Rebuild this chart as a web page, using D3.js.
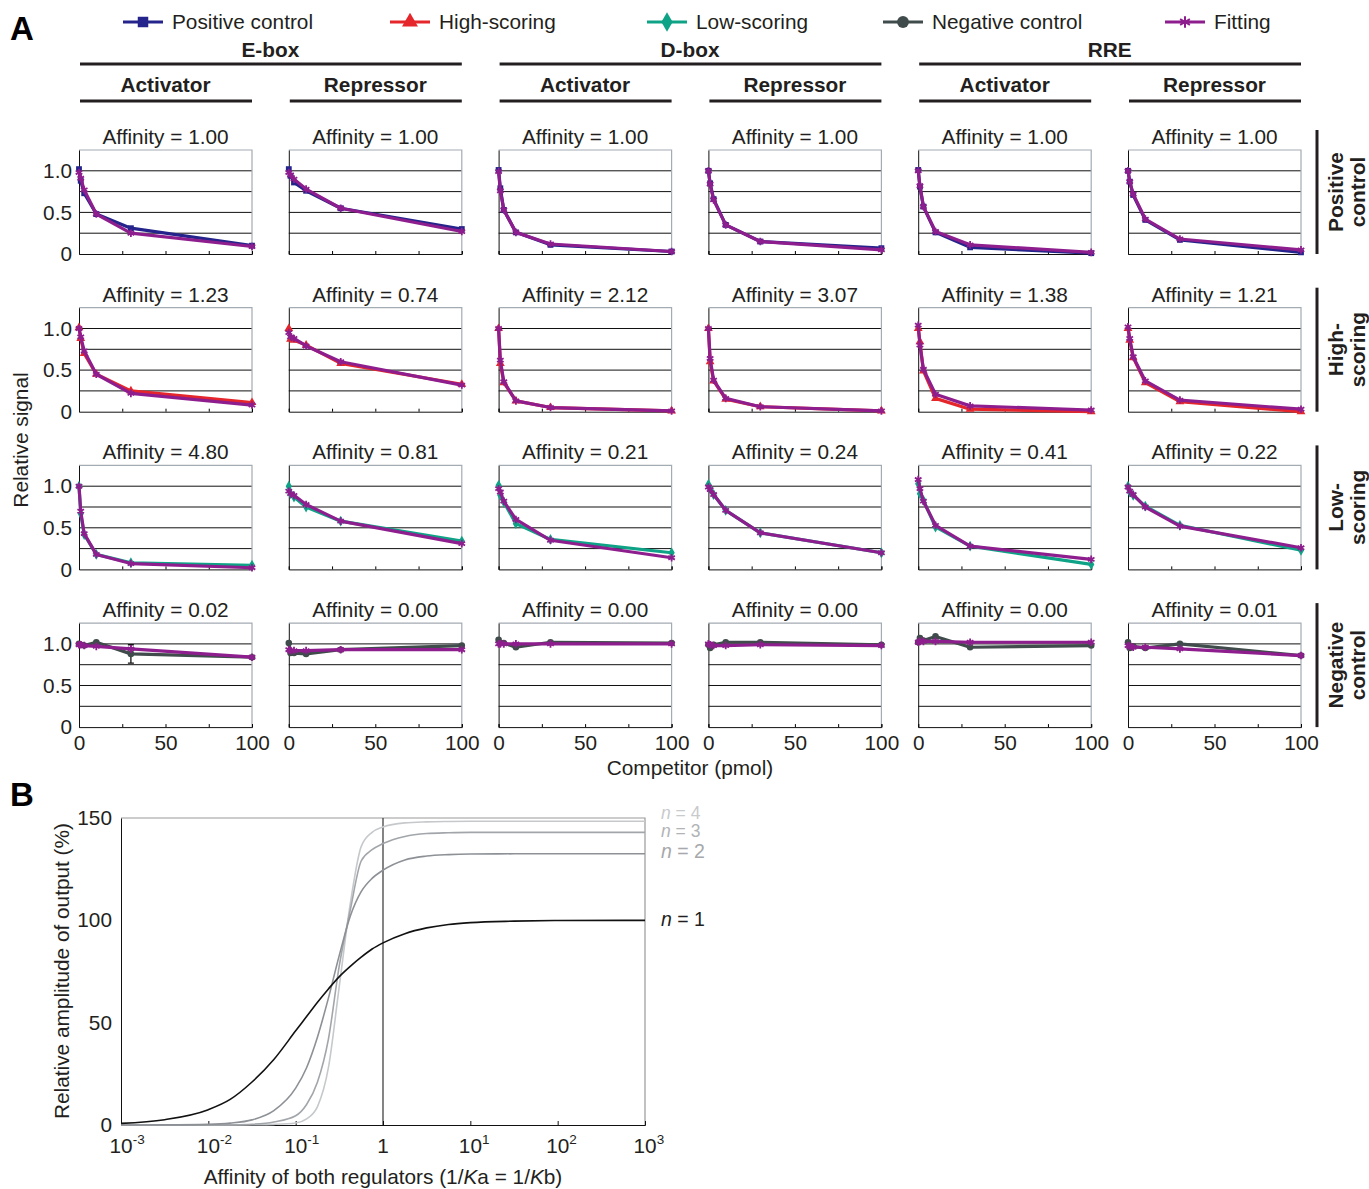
<!DOCTYPE html>
<meta charset="utf-8">
<style>
body { margin: 0; background: #fff; }
svg { font-family: "Liberation Sans", Arial, Helvetica, sans-serif; }
.bold { font-weight: bold; }
</style>
<body>
<script src="https://cdn.jsdelivr.net/npm/d3@7"></script>
<script>

var width = 1369,
    height = 1189,
    fs = 20.8;

// competitor amounts (pmol)
var competitor = [0, 1, 3, 10, 30, 100];

var groups = ["E-box", "D-box", "RRE"];
var roles = ["Activator", "Repressor"];
var rowNames = [["Positive", "control"], ["High-", "scoring"], ["Low-", "scoring"], ["Negative", "control"]];

var affinity = [
  ["1.00", "1.00", "1.00", "1.00", "1.00", "1.00"],
  ["1.23", "0.74", "2.12", "3.07", "1.38", "1.21"],
  ["4.80", "0.81", "0.21", "0.24", "0.41", "0.22"],
  ["0.02", "0.00", "0.00", "0.00", "0.00", "0.01"]
];

// measured signal, one array per column (E-box act, E-box rep, D-box act, D-box rep, RRE act, RRE rep)
var positiveData = [
  [1.02, 0.88, 0.73, 0.48, 0.31, 0.10],
  [1.02, 0.94, 0.86, 0.76, 0.55, 0.30],
  [1.01, 0.79, 0.53, 0.26, 0.11, 0.03],
  [1.00, 0.85, 0.66, 0.35, 0.15, 0.07],
  [1.01, 0.81, 0.57, 0.26, 0.08, 0.01],
  [1.00, 0.87, 0.71, 0.41, 0.17, 0.02]
];
var positiveFit = [
  [0.98, 0.91, 0.77, 0.48, 0.25, 0.09],
  [0.98, 0.95, 0.90, 0.78, 0.55, 0.27],
  [0.99, 0.76, 0.53, 0.26, 0.12, 0.03],
  [1.00, 0.84, 0.65, 0.35, 0.15, 0.05],
  [1.00, 0.82, 0.57, 0.27, 0.11, 0.02],
  [1.00, 0.87, 0.72, 0.42, 0.18, 0.05]
];
var highData = [
  [1.01, 0.88, 0.70, 0.45, 0.25, 0.11],
  [1.00, 0.87, 0.86, 0.80, 0.58, 0.33],
  [1.00, 0.58, 0.35, 0.13, 0.05, 0.01],
  [1.00, 0.60, 0.37, 0.15, 0.06, 0.01],
  [1.00, 0.84, 0.49, 0.16, 0.03, 0.00],
  [1.00, 0.86, 0.65, 0.35, 0.12, 0.00]
];
var highFit = [
  [1.00, 0.90, 0.73, 0.45, 0.22, 0.08],
  [0.95, 0.90, 0.88, 0.79, 0.60, 0.32],
  [1.00, 0.62, 0.36, 0.13, 0.05, 0.01],
  [1.00, 0.64, 0.38, 0.16, 0.06, 0.01],
  [1.04, 0.80, 0.51, 0.21, 0.07, 0.02],
  [1.02, 0.88, 0.66, 0.37, 0.14, 0.03]
];
var lowData = [
  [1.00, 0.67, 0.42, 0.18, 0.08, 0.05],
  [1.00, 0.91, 0.87, 0.75, 0.58, 0.34],
  [1.01, 0.89, 0.81, 0.55, 0.36, 0.20],
  [1.02, 0.97, 0.90, 0.71, 0.44, 0.20],
  [1.03, 0.91, 0.83, 0.51, 0.28, 0.06],
  [1.00, 0.93, 0.89, 0.76, 0.53, 0.23]
];
var lowFit = [
  [1.00, 0.70, 0.43, 0.18, 0.07, 0.02],
  [0.94, 0.91, 0.89, 0.78, 0.58, 0.31],
  [0.97, 0.93, 0.82, 0.60, 0.35, 0.14],
  [0.99, 0.96, 0.90, 0.71, 0.44, 0.20],
  [1.08, 0.97, 0.82, 0.53, 0.28, 0.12],
  [0.99, 0.94, 0.90, 0.75, 0.52, 0.26]
];
var negData = [
  [1.00, 0.99, 0.98, 1.02, 0.88, 0.84],
  [1.01, 0.89, 0.89, 0.88, 0.93, 0.98],
  [1.05, 1.01, 1.01, 0.96, 1.02, 1.01],
  [0.99, 0.95, 0.99, 1.02, 1.02, 0.99],
  [1.02, 1.07, 1.04, 1.09, 0.96, 0.98],
  [1.02, 0.95, 0.97, 0.95, 1.00, 0.86]
];
var negFit = [
  [0.99, 0.99, 0.98, 0.97, 0.94, 0.84],
  [0.93, 0.92, 0.92, 0.92, 0.93, 0.93],
  [1.00, 1.00, 1.00, 1.00, 1.00, 1.00],
  [1.00, 0.99, 0.98, 0.98, 0.99, 0.98],
  [1.02, 1.03, 1.03, 1.03, 1.02, 1.02],
  [0.98, 0.97, 0.96, 0.96, 0.94, 0.86]
];
// visible error bar: [row, column, point index, half width]
var errorBars = [[3, 0, 4, 0.11]];

// panel B: log10 affinity and read-off curve values (%)
var logAffinity = [-3, -2.5, -2, -1.75, -1.5, -1.25, -1, -0.875, -0.75, -0.625, -0.5, -0.375, -0.25, -0.125, 0, 0.25, 0.5, 0.75, 1, 1.5, 2, 3];
var hill1 = [0.8, 2.6, 7.5, 12.5, 21, 32, 46, 53, 60, 66.5, 72.5, 77.5, 82, 86, 89, 93.5, 96.3, 98, 98.9, 99.6, 99.9, 100];
var hill2 = [0, 0.05, 0.3, 0.9, 2.5, 7, 18, 28, 43, 62, 83, 102, 114, 120.5, 124.5, 129.5, 131.4, 132.1, 132.4, 132.5, 132.5, 132.5];
var hill3 = [0, 0, 0, 0.1, 0.4, 1.5, 4.5, 10, 21, 42, 78, 105, 129, 134.5, 137.5, 141, 142.4, 142.8, 143, 143, 143, 143];
var hill4 = [0, 0, 0, 0, 0.1, 0.3, 1, 3, 9, 28, 68, 108, 136, 143, 145.6, 147.6, 148.1, 148.3, 148.4, 148.4, 148.4, 148.4];
var hillLabels = ["1", "2", "3", "4"];

var rowData = [positiveData, highData, lowData, negData];
var rowFit = [positiveFit, highFit, lowFit, negFit];

var seriesStyle = [
  {name: "Positive control", color: "#24248c", symbol: d3.symbolSquare, fill: true},
  {name: "High-scoring", color: "#e5262b", symbol: d3.symbolTriangle, fill: true},
  {name: "Low-scoring", color: "#0ea386", symbol: d3.symbolDiamond, fill: true},
  {name: "Negative control", color: "#404b4b", symbol: d3.symbolCircle, fill: true},
  {name: "Fitting", color: "#8e1e8e", symbol: d3.symbolAsterisk, fill: false}
];

var svg = d3.select("body").append("svg")
    .attr("width", width)
    .attr("height", height);

// panel letters
svg.append("text").attr("class", "bold").attr("x", 10).attr("y", 40)
    .attr("font-size", 33).text("A");
svg.append("text").attr("class", "bold").attr("x", 10).attr("y", 806)
    .attr("font-size", 33).text("B");

// legend
var legendX = [123, 390, 647, 883, 1165];
seriesStyle.forEach(function(s, i) {
  var g = svg.append("g").attr("transform", "translate(" + legendX[i] + ",22)");
  g.append("line").attr("x1", 0).attr("x2", 40)
      .attr("stroke", s.color).attr("stroke-width", 3);
  g.append("path")
      .attr("transform", "translate(20,0)")
      .attr("d", d3.symbol().type(s.symbol).size(s.fill ? 110 : 90)())
      .attr("fill", s.fill ? s.color : "none")
      .attr("stroke", s.color).attr("stroke-width", s.fill ? 0 : 2);
  g.append("text").attr("x", 49).attr("y", 7)
      .attr("font-size", fs).attr("fill", "#231f20").text(s.name);
});

// grid of small panels
var pw = 173, ph = 104;
var colX = d3.range(6).map(function(i) { return 79 + i * 209.8; });
var rowY = d3.range(4).map(function(j) { return 150 + j * 157.7; });

var x = d3.scaleLinear().domain([0, 100]).range([0, pw]);
var y = d3.scaleLinear().domain([0, 1.25]).range([ph, 0]);

// headers
groups.forEach(function(name, gi) {
  var x0 = colX[gi * 2], x1 = colX[gi * 2 + 1] + pw;
  svg.append("text").attr("class", "bold").attr("x", (x0 + x1) / 2).attr("y", 57)
      .attr("text-anchor", "middle").attr("font-size", fs).attr("fill", "#231f20").text(name);
  svg.append("line").attr("x1", x0 + 1).attr("x2", x1).attr("y1", 64).attr("y2", 64)
      .attr("stroke", "#231f20").attr("stroke-width", 3);
  roles.forEach(function(role, ri) {
    var cx = colX[gi * 2 + ri];
    svg.append("text").attr("class", "bold").attr("x", cx + pw / 2).attr("y", 92)
        .attr("text-anchor", "middle").attr("font-size", fs).attr("fill", "#231f20").text(role);
    svg.append("line").attr("x1", cx + 1).attr("x2", cx + pw).attr("y1", 101).attr("y2", 101)
        .attr("stroke", "#231f20").attr("stroke-width", 3);
  });
});

var line = d3.line()
    .x(function(d, i) { return x(competitor[i]); })
    .y(function(d) { return y(d); });

rowY.forEach(function(ry, r) {
  colX.forEach(function(cx, c) {
    var g = svg.append("g").attr("transform", "translate(" + cx + "," + ry + ")");

    g.append("text").attr("x", pw / 2).attr("y", -6)
        .attr("text-anchor", "middle").attr("font-size", fs).attr("fill", "#231f20")
        .text("Affinity = " + affinity[r][c]);

    g.selectAll(".grid").data([0.25, 0.5, 0.75, 1]).enter().append("line")
        .attr("x1", 0).attr("x2", pw)
        .attr("y1", function(d) { return y(d); }).attr("y2", function(d) { return y(d); })
        .attr("stroke", "#111").attr("stroke-width", 1);
    // top and right frame
    g.append("path").attr("d", "M0," + y(1.25) + "H" + pw + "V" + ph)
        .attr("fill", "none").attr("stroke", "#a3abb3").attr("stroke-width", 1.2);

    var xa = d3.axisBottom(x).tickValues([0, 25, 50, 75, 100]).tickSize(-3).tickPadding(8)
        .tickFormat(function(d) { return (r === 3 && d % 50 === 0) ? d : ""; });
    var xg = g.append("g").attr("transform", "translate(0," + ph + ")").call(xa);
    xg.selectAll("text").attr("font-size", fs).attr("fill", "#231f20").attr("font-family", null);
    xg.select(".domain").attr("stroke", "#111");

    var ya = d3.axisLeft(y).tickValues(c === 0 ? [0, 0.5, 1] : []).tickSize(0).tickPadding(7)
        .tickFormat(function(d) { return d === 0 ? "0" : d.toFixed(1); });
    var yg = g.append("g").call(ya);
    yg.selectAll("text").attr("font-size", fs).attr("fill", "#231f20").attr("font-family", null);
    yg.select(".domain").attr("stroke", "#111");

    var s = seriesStyle[r], f = seriesStyle[4];
    var vals = rowData[r][c], fit = rowFit[r][c];

    errorBars.filter(function(e) { return e[0] === r && e[1] === c; }).forEach(function(e) {
      var ex = x(competitor[e[2]]), ev = vals[e[2]];
      g.append("path")
          .attr("d", "M" + ex + "," + y(ev - e[3]) + "V" + y(ev + e[3]) +
                "M" + (ex - 3) + "," + y(ev - e[3]) + "h6M" + (ex - 3) + "," + y(ev + e[3]) + "h6")
          .attr("stroke", "#111").attr("stroke-width", 1.3).attr("fill", "none");
    });

    g.append("path").datum(vals).attr("d", line)
        .attr("fill", "none").attr("stroke", s.color).attr("stroke-width", 3.2)
        .attr("stroke-linejoin", "round");
    g.selectAll(".pt").data(vals).enter().append("path")
        .attr("transform", function(d, i) { return "translate(" + x(competitor[i]) + "," + y(d) + ")"; })
        .attr("d", d3.symbol().type(s.symbol).size(34)())
        .attr("fill", s.color);

    g.append("path").datum(fit).attr("d", line)
        .attr("fill", "none").attr("stroke", f.color).attr("stroke-width", 3.2)
        .attr("stroke-linejoin", "round");
    g.selectAll(".fp").data(fit).enter().append("path")
        .attr("transform", function(d, i) { return "translate(" + x(competitor[i]) + "," + y(d) + ")"; })
        .attr("d", d3.symbol().type(f.symbol).size(40)())
        .attr("fill", "none").attr("stroke", f.color).attr("stroke-width", 1.8);
  });

  // row label on the right
  svg.append("line").attr("x1", 1317).attr("x2", 1317)
      .attr("y1", ry - 20).attr("y2", ry + ph)
      .attr("stroke", "#231f20").attr("stroke-width", 3);
  var cy = ry + ph / 2 - 10;
  rowNames[r].forEach(function(t, k) {
    svg.append("text").attr("class", "bold")
        .attr("transform", "translate(" + (1343 + k * 22) + "," + cy + ")rotate(-90)")
        .attr("text-anchor", "middle").attr("font-size", fs).attr("fill", "#231f20").text(t);
  });
});

svg.append("text")
    .attr("transform", "translate(28,440)rotate(-90)")
    .attr("text-anchor", "middle").attr("font-size", fs).attr("fill", "#231f20")
    .text("Relative signal");
svg.append("text").attr("x", 690).attr("y", 775)
    .attr("text-anchor", "middle").attr("font-size", fs).attr("fill", "#231f20")
    .text("Competitor (pmol)");

// panel B
var bx = d3.scaleLog().domain([1e-3, 1e3]).range([121, 645]);
var by = d3.scaleLinear().domain([0, 150]).range([1125, 818]);

svg.append("path").attr("d", "M" + bx(1e-3) + "," + by(150) + "H" + bx(1e3) + "V" + by(0))
    .attr("fill", "none").attr("stroke", "#9a9a9a").attr("stroke-width", 1.2);
svg.append("line").attr("x1", bx(1)).attr("x2", bx(1)).attr("y1", by(0)).attr("y2", by(150))
    .attr("stroke", "#333").attr("stroke-width", 1.2);

var decades = [-3, -2, -1, 0, 1, 2, 3];
var bxa = d3.axisBottom(bx).tickValues(decades.map(function(d) { return Math.pow(10, d); }))
    .tickSize(-4).tickFormat("");
var bxg = svg.append("g").attr("transform", "translate(0," + by(0) + ")").call(bxa);
bxg.select(".domain").attr("stroke", "#111");
bxg.selectAll("line").attr("stroke", "#111");

decades.forEach(function(d) {
  var px = bx(Math.pow(10, d));
  var t = svg.append("text").attr("y", 1153).attr("font-size", fs).attr("fill", "#231f20");
  if (d === 0) { t.attr("x", px).attr("text-anchor", "middle").text("1"); return; }
  t.attr("x", px - 11.5);
  t.append("tspan").text("10");
  t.append("tspan").attr("dy", -9).attr("font-size", 13.5).text(d);
});

var bya = d3.axisLeft(by).tickValues([0, 50, 100, 150]).tickSize(0).tickPadding(9);
var byg = svg.append("g").attr("transform", "translate(" + bx(1e-3) + ",0)").call(bya);
byg.select(".domain").attr("stroke", "#111");
byg.selectAll("text").attr("font-size", fs).attr("fill", "#231f20").attr("font-family", null);

var curves = [hill1, hill2, hill3, hill4];
var curveColors = ["#111111", "#8d9196", "#a2a6aa", "#c6c9cc"];
var labelColors = ["#231f20", "#a6a8ab", "#b1b3b6", "#c8cacc"];
var labelShift = [6, 4, 5, -2];

var bline = d3.line()
    .x(function(d, i) { return bx(Math.pow(10, logAffinity[i])); })
    .y(function(d) { return by(d); })
    .curve(d3.curveMonotoneX);

curves.slice().reverse().forEach(function(c, k) {
  var i = curves.length - 1 - k;
  svg.append("path").datum(c).attr("d", bline)
      .attr("fill", "none").attr("stroke", curveColors[i]).attr("stroke-width", 1.6);
});

curves.forEach(function(c, i) {
  var t = svg.append("text").attr("x", 661).attr("y", by(c[c.length - 1]) + labelShift[i])
      .attr("font-size", i > 1 ? 17.5 : 19.5).attr("fill", labelColors[i]);
  t.append("tspan").attr("font-style", "italic").text("n");
  t.append("tspan").text(" = " + hillLabels[i]);
});

svg.append("text")
    .attr("transform", "translate(69,971)rotate(-90)")
    .attr("text-anchor", "middle").attr("font-size", fs).attr("fill", "#231f20")
    .text("Relative amplitude of output (%)");

var xl = svg.append("text").attr("x", 383).attr("y", 1184)
    .attr("text-anchor", "middle").attr("font-size", fs).attr("fill", "#231f20");
xl.append("tspan").text("Affinity of both regulators (1/");
xl.append("tspan").attr("font-style", "italic").text("K");
xl.append("tspan").text("a = 1/");
xl.append("tspan").attr("font-style", "italic").text("K");
xl.append("tspan").text("b)");

</script>
</body>
